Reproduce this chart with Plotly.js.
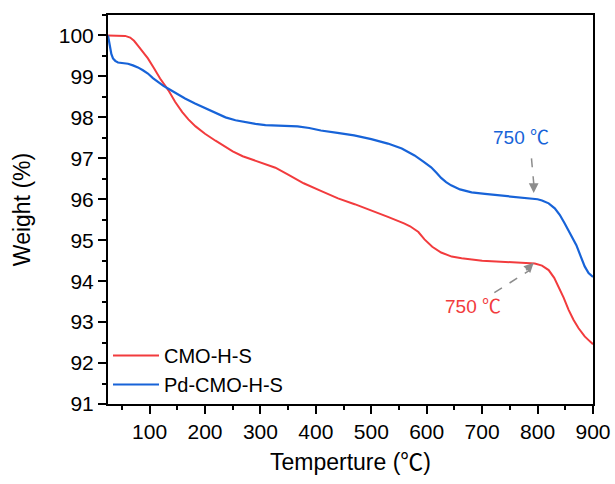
<!DOCTYPE html>
<html>
<head>
<meta charset="utf-8">
<script src="https://cdn.plot.ly/plotly-3.0.1.min.js"></script>
<style>html,body{margin:0;padding:0;background:#fff}#chart{width:615px;height:484px}</style>
</head>
<body>
<div id="chart"></div>
<script>
// Data
const cmoT = [25, 45, 56, 65, 72, 79, 88, 97, 108, 119, 134, 146, 159, 170, 183, 200, 219, 235, 250, 268, 286, 305, 327, 350, 378, 410, 440, 470, 500, 530, 559, 570, 585, 596, 610, 626, 645, 663, 700, 735, 765, 795, 808, 820, 830, 838, 847, 856, 865, 874, 885, 892, 900];
const cmoW = [100, 100, 99.99, 99.95, 99.87, 99.75, 99.6, 99.44, 99.2, 98.95, 98.66, 98.38, 98.13, 97.95, 97.78, 97.6, 97.43, 97.3, 97.17, 97.05, 96.96, 96.87, 96.77, 96.6, 96.39, 96.2, 96.02, 95.88, 95.73, 95.57, 95.41, 95.34, 95.2, 95.02, 94.84, 94.7, 94.6, 94.56, 94.5, 94.47, 94.45, 94.43, 94.38, 94.27, 94.08, 93.87, 93.6, 93.3, 93.05, 92.85, 92.65, 92.56, 92.46];
const pdT = [25, 27, 29, 31, 34, 38, 43, 52, 61, 70, 79, 88, 97, 106, 116, 125, 134, 149, 164, 182, 201, 219, 237, 255, 273, 291, 309, 327, 347, 367, 388, 409, 439, 469, 500, 530, 555, 578, 594, 608, 618, 626, 635, 644, 660, 681, 705, 730, 760, 790, 800, 808, 820, 831, 840, 849, 856, 862, 870, 878, 885, 892, 900];
const pdW = [100, 99.85, 99.68, 99.55, 99.44, 99.38, 99.34, 99.32, 99.31, 99.27, 99.22, 99.15, 99.07, 98.96, 98.85, 98.77, 98.7, 98.58, 98.46, 98.34, 98.22, 98.1, 98.0, 97.93, 97.88, 97.84, 97.81, 97.8, 97.79, 97.78, 97.74, 97.68, 97.62, 97.56, 97.47, 97.36, 97.24, 97.07, 96.92, 96.78, 96.64, 96.52, 96.42, 96.34, 96.24, 96.17, 96.13, 96.1, 96.06, 96.02, 96.0, 95.97, 95.9, 95.78, 95.62, 95.41, 95.24, 95.07, 94.88, 94.6, 94.36, 94.2, 94.1];
const seriesNames = ["CMO-H-S", "Pd-CMO-H-S"];
const annText = "750 ℃";
// annotation anchor points (temperature, weight)
const blueTip = [793, 96.15], blueTail = [789, 97.0];
const redTip = [793, 94.45], redTail = [722, 93.72];
const blueLabel = [770, 97.51], redLabel = [683, 93.37];

const RED = "#f23b3d", BLUE = "#1763d8", GRAY = "#8c8c8c";
const FONT = "Liberation Sans, Arial, Noto Sans CJK SC, sans-serif";

const traces = [
  {x: cmoT, y: cmoW, name: seriesNames[0], mode: "lines", line: {color: RED, width: 2}},
  {x: pdT, y: pdW, name: seriesNames[1], mode: "lines", line: {color: BLUE, width: 2.2}}
];

const axisCommon = {
  showline: true, linecolor: "#000", linewidth: 2, mirror: true,
  ticks: "outside", ticklen: 8, tickwidth: 2, tickcolor: "#000",
  showgrid: false, zeroline: false,
  tickfont: {family: FONT, size: 21, color: "#000"}
};

const layout = {
  width: 615, height: 484,
  margin: {l: 108, r: 22, t: 15, b: 80},
  paper_bgcolor: "#fff", plot_bgcolor: "#fff",
  showlegend: true,
  legend: {x: 0.0, y: 0.0, xanchor: "left", yanchor: "bottom", bgcolor: "rgba(0,0,0,0)",
           itemwidth: 46,
           font: {family: FONT, size: 20, color: "#000"}, tracegroupgap: 0},
  xaxis: Object.assign({}, axisCommon, {
    range: [25, 900], dtick: 100, tick0: 0,
    minor: {ticks: "outside", dtick: 50, tick0: 0, ticklen: 4, tickwidth: 2, tickcolor: "#000"},
    title: {text: "Temperture (℃)", font: {family: FONT, size: 23, color: "#000"}, standoff: 12}
  }),
  yaxis: Object.assign({}, axisCommon, {
    range: [91, 100.5], dtick: 1, tick0: 91,
    minor: {ticks: "outside", dtick: 0.5, tick0: 91, ticklen: 4, tickwidth: 2, tickcolor: "#000"},
    title: {text: "Weight (%)", font: {family: FONT, size: 23, color: "#000"}, standoff: 22}
  }),
  shapes: [
    {type: "line", xref: "x", yref: "y", x0: blueTail[0], y0: blueTail[1], x1: blueTip[0], y1: blueTip[1] + 0.25,
     line: {color: GRAY, width: 1.5, dash: "dash"}},
    {type: "line", xref: "x", yref: "y", x0: redTail[0], y0: redTail[1], x1: redTip[0] - 9, y1: redTip[1] - 0.2,
     line: {color: GRAY, width: 1.5, dash: "dash"}}
  ],
  annotations: [
    {x: blueTip[0], y: blueTip[1], xref: "x", yref: "y", showarrow: true, arrowhead: 2, arrowsize: 1.3, arrowwidth: 1.5,
     arrowcolor: GRAY, ax: 0, ay: -12, text: ""},
    {x: redTip[0], y: redTip[1], xref: "x", yref: "y", showarrow: true, arrowhead: 2, arrowsize: 1.3, arrowwidth: 1.5,
     arrowcolor: GRAY, ax: -9, ay: 9, text: ""},
    {x: blueLabel[0], y: blueLabel[1], xref: "x", yref: "y", showarrow: false, text: annText,
     font: {family: FONT, size: 19, color: BLUE}},
    {x: redLabel[0], y: redLabel[1], xref: "x", yref: "y", showarrow: false, text: annText,
     font: {family: FONT, size: 19, color: RED}}
  ]
};

Plotly.newPlot("chart", traces, layout, {displayModeBar: false, staticPlot: true});
</script>
</body>
</html>
